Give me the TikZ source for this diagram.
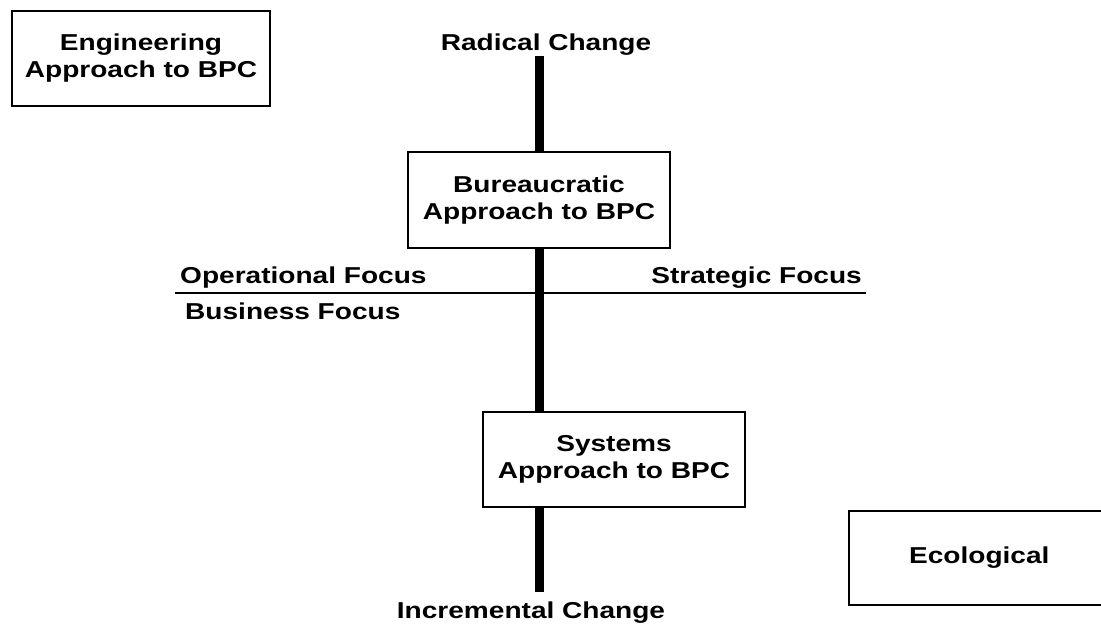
\documentclass[tikz,border=0pt]{standalone}
\usepackage{fontspec}
\setmainfont{Liberation Sans}[FakeStretch=1.22]
\begin{document}
\begin{tikzpicture}[x=1pt,y=-1pt,
  lbl/.style={font=\fontsize{23}{27}\selectfont\bfseries, inner sep=0pt},
  approach/.style={draw, line width=2.2pt, fill=white, align=center,
    font=\fontsize{23}{27}\selectfont\bfseries, inner sep=0pt},
  axis/.style={line width=9pt},
  divider/.style={line width=2pt}]
\useasboundingbox (0,0) rectangle (1101,627);
\begin{scope}
\clip (0,0) rectangle (1101,627);
% vertical axis
\coordinate (vtop) at (539,56);
\coordinate (vbot) at (539,592);
\draw[axis] (vtop) -- (vbot);
% horizontal divider
\coordinate (hl) at (175,293);
\coordinate (hr) at (866,293);
\draw[divider] (hl) -- (hr);
% boxes
\node[approach, minimum width=258pt, minimum height=95pt] (eng) at (141,58.5) {Engineering\\Approach to BPC};
\node[approach, minimum width=262pt, minimum height=96pt] (bur) at (539,200) {Bureaucratic\\Approach to BPC};
\node[approach, minimum width=262pt, minimum height=95pt] (sys) at (614,459.5) {Systems\\Approach to BPC};
\node[approach, anchor=west, minimum width=340pt, minimum height=94pt, text width=340pt, align=left] (eco) at (848,558) {\hspace*{60pt}Ecological};
% labels
\node[lbl, anchor=base] (rad) at (546,50) {Radical Change};
\node[lbl, anchor=base] (inc) at (531,618) {Incremental Change};
\node[lbl, anchor=base west] (op) at (180,283) {Operational Focus};
\node[lbl, anchor=base east] (st) at (862,283) {Strategic Focus};
\node[lbl, anchor=base west] (bus) at (185,319) {Business Focus};
\end{scope}
\end{tikzpicture}
\end{document}
